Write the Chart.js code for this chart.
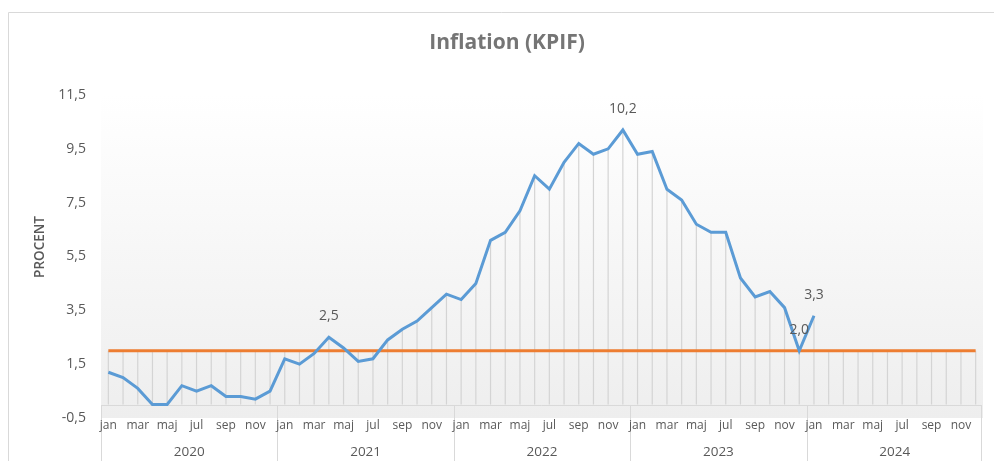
<!DOCTYPE html>
<html>
<head>
<meta charset="utf-8">
<script src="https://cdn.jsdelivr.net/npm/chart.js@4/dist/chart.umd.min.js"></script>
<style>
  html, body { margin: 0; padding: 0; background: #fff; overflow: hidden; }
  #wrap { position: relative; width: 994px; height: 461px; }
</style>
</head>
<body>
<div id="wrap"><canvas id="kpifChart" width="994" height="461"></canvas></div>
<script>
// --- DATA ---
const months = ['jan','feb','mar','apr','maj','jun','jul','aug','sep','okt','nov','dec'];
const years = ['2020','2021','2022','2023','2024'];
const yTicks = [-0.5, 1.5, 3.5, 5.5, 7.5, 9.5, 11.5];

// KPIF, yearly change in percent, jan 2020 - jan 2024
const kpif = [
  1.2, 1.0, 0.6, 0.0, 0.0, 0.7, 0.5, 0.7, 0.3, 0.3, 0.2, 0.5,
  1.7, 1.5, 1.9, 2.5, 2.1, 1.6, 1.7, 2.4, 2.8, 3.1, 3.6, 4.1,
  3.9, 4.5, 6.1, 6.4, 7.2, 8.5, 8.0, 9.0, 9.7, 9.3, 9.5, 10.2,
  9.3, 9.4, 8.0, 7.6, 6.7, 6.4, 6.4, 4.7, 4.0, 4.2, 3.6, 2.0,
  3.3
];
// inflation target
const target = [
  2.0, 2.0, 2.0, 2.0, 2.0, 2.0, 2.0, 2.0, 2.0, 2.0, 2.0, 2.0,
  2.0, 2.0, 2.0, 2.0, 2.0, 2.0, 2.0, 2.0, 2.0, 2.0, 2.0, 2.0,
  2.0, 2.0, 2.0, 2.0, 2.0, 2.0, 2.0, 2.0, 2.0, 2.0, 2.0, 2.0,
  2.0, 2.0, 2.0, 2.0, 2.0, 2.0, 2.0, 2.0, 2.0, 2.0, 2.0, 2.0,
  2.0, 2.0, 2.0, 2.0, 2.0, 2.0, 2.0, 2.0, 2.0, 2.0, 2.0, 2.0
];
// points that carry a value label
const labelled = [15, 35, 47, 48];

const labels = [];
years.forEach(y => months.forEach(m => labels.push(m)));

const textColor = '#595959';
const lineGrey = '#d9d9d9';
const fmt = v => v.toFixed(1).replace('.', ',');

// --- PLUGINS ---
const excelLook = {
  id: 'excelLook',
  beforeDraw(chart) {
    const { ctx, chartArea: a, scales: { y } } = chart;
    ctx.save();
    // chart border (only top/left visible in crop)
    ctx.strokeStyle = lineGrey; ctx.lineWidth = 1;
    ctx.beginPath();
    ctx.moveTo(8.5, 470); ctx.lineTo(8.5, 12.5); ctx.lineTo(1000, 12.5);
    ctx.stroke();
    // plot area gradient
    const g = ctx.createLinearGradient(0, a.top, 0, a.bottom);
    g.addColorStop(0, '#ffffff');
    g.addColorStop(1, '#eeeeee');
    ctx.fillStyle = g;
    ctx.fillRect(a.left, a.top, a.right - a.left, a.bottom - a.top);
    // category axis line and year boxes (under the tick labels)
    const y0 = Math.round(y.getPixelForValue(0)) + 0.5;
    const w = (a.right - a.left) / labels.length;
    ctx.strokeStyle = lineGrey; ctx.lineWidth = 1;
    ctx.beginPath();
    ctx.moveTo(a.left, y0); ctx.lineTo(a.right - 1, y0);
    for (let k = 0; k < years.length; k++) {
      const bx = Math.round(a.left + k * 12 * w) + 0.5;
      ctx.moveTo(bx, y0); ctx.lineTo(bx, 470);
    }
    ctx.moveTo(Math.round(a.right) - 1.5, y0); ctx.lineTo(Math.round(a.right) - 1.5, 470);
    ctx.stroke();
    ctx.restore();
  },
  beforeDatasetsDraw(chart) {
    const { ctx, scales: { x, y } } = chart;
    const y0 = y.getPixelForValue(0);
    ctx.save();
    // drop lines
    ctx.strokeStyle = '#d4d4d4'; ctx.lineWidth = 1.2;
    labels.forEach((l, i) => {
      const vals = [target[i]];
      if (kpif[i] !== undefined) vals.push(kpif[i]);
      const top = y.getPixelForValue(Math.max(...vals));
      const px = x.getPixelForValue(i);
      ctx.beginPath(); ctx.moveTo(px, top); ctx.lineTo(px, y0); ctx.stroke();
    });
    ctx.restore();
  },
  afterDatasetsDraw(chart) {
    const { ctx, scales: { x, y }, chartArea: a } = chart;
    const w = (a.right - a.left) / labels.length;
    ctx.save();
    // value labels
    ctx.fillStyle = textColor;
    ctx.font = '14px "Open Sans"';
    ctx.textAlign = 'center'; ctx.textBaseline = 'middle';
    labelled.forEach(i => {
      ctx.fillText(fmt(kpif[i]), x.getPixelForValue(i), y.getPixelForValue(kpif[i]) - 21);
    });
    // year labels
    ctx.font = '13.5px "Open Sans"';
    years.forEach((yr, k) => {
      ctx.fillText(yr, a.left + (k * 12 + 6) * w, 452);
    });
    // titles
    ctx.fillStyle = '#757575';
    ctx.font = 'bold 21px "Open Sans"';
    ctx.fillText('Inflation (KPIF)', 507, 43);
    ctx.fillStyle = textColor;
    ctx.translate(40, 247);
    ctx.rotate(-Math.PI / 2);
    ctx.font = '600 13.5px "Open Sans"';
    ctx.fillText('PROCENT', 0, 0);
    ctx.restore();
  }
};

// --- CHART ---
new Chart(document.getElementById('kpifChart'), {
  type: 'line',
  data: {
    labels: labels,
    datasets: [
      { label: 'KPIF', data: kpif, borderColor: '#5b9bd5', borderWidth: 3, pointRadius: 0, tension: 0, order: 1 },
      { label: 'Inflationsmål', data: target, borderColor: '#ed7d31', borderWidth: 3, pointRadius: 0, tension: 0, order: 2 }
    ]
  },
  options: {
    responsive: false,
    animation: false,
    layout: { padding: { top: 95, right: 11, left: 0, bottom: 0 } },
    plugins: { legend: { display: false }, tooltip: { enabled: false } },
    scales: {
      x: {
        offset: true,
        grid: { display: false, drawTicks: false },
        border: { display: false },
        afterFit: s => { s.height = 43; },
        ticks: {
          autoSkip: false, maxRotation: 0, padding: 0,
          color: textColor, font: { family: 'Open Sans', size: 12 },
          callback: (v, i) => i % 2 === 0 ? labels[i] : ''
        }
      },
      y: {
        min: -0.5, max: 11.5,
        grid: { display: false, drawTicks: false },
        border: { display: false },
        afterFit: s => { s.width = 101; },
        afterBuildTicks: s => { s.ticks = yTicks.map(v => ({ value: v })); },
        ticks: {
          padding: 15, color: textColor, font: { family: 'Open Sans', size: 14 },
          callback: v => fmt(v)
        }
      }
    }
  },
  plugins: [excelLook]
});
</script>
</body>
</html>
